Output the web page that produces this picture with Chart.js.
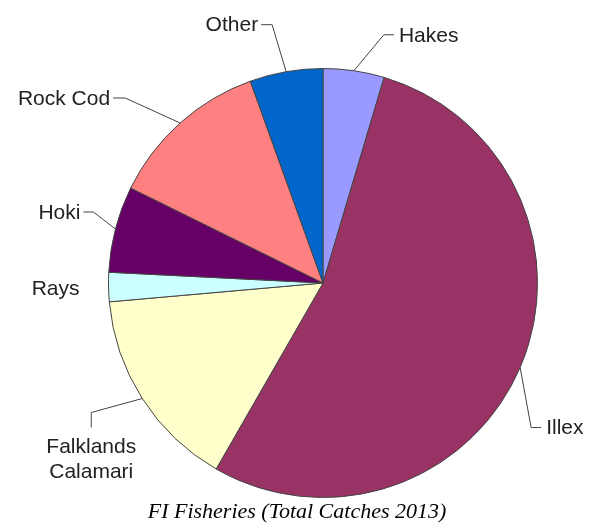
<!DOCTYPE html>
<html>
<head>
<meta charset="utf-8">
<script src="https://cdn.jsdelivr.net/npm/chart.js@4/dist/chart.umd.min.js"></script>
<style>
  body { margin: 0; background: #fff; }
  canvas { display: block; }
</style>
</head>
<body>
<canvas id="pieChart" width="592" height="529"></canvas>
<script>
// catch shares (%)
const categories = ["Hakes", "Illex", "Falklands Calamari", "Rays", "Hoki", "Rock Cod", "Other"];
const catchShare = [4.6, 53.7, 15.3, 2.2, 6.5, 12.2, 5.5];
const sliceColors = ["#9999FF", "#993366", "#FFFFCC", "#CCFFFF", "#660066", "#FF8080", "#0066CC"];
const chartTitle = "FI Fisheries (Total Catches 2013)";

// leader line layout per label: elbow and end offsets from the slice edge, text side
const labelLayout = [
    { elbow: [30, -36], end: [40, -36], align: "left" },
    { elbow: [11, 60], end: [21, 60], align: "left" },
    { elbow: [-51, 14], end: [-51, 29], align: "below" },
    { elbow: null, end: [-26, 1], align: "right" },
    { elbow: [-22, -17], end: [-32, -17], align: "right" },
    { elbow: [-55, -25], end: [-67, -25], align: "right" },
    { elbow: [-14, -47], end: [-25, -47], align: "right" }
];

// draws the labels with leader lines plus the title under the pie
const pieLabels = {
    id: "pieLabels",
    afterDatasetsDraw(chart) {
        const ctx = chart.ctx;
        const arcs = chart.getDatasetMeta(0).data;
        ctx.save();
        ctx.font = "21px 'Liberation Sans', Arial, sans-serif";
        ctx.fillStyle = "#222";
        ctx.strokeStyle = "#444";
        ctx.lineWidth = 1;
        arcs.forEach((arc, i) => {
            const p = arc.getProps(["x", "y", "startAngle", "endAngle", "outerRadius"], true);
            const mid = (p.startAngle + p.endAngle) / 2;
            const ax = p.x + Math.cos(mid) * p.outerRadius;
            const ay = p.y + Math.sin(mid) * p.outerRadius;
            const lay = labelLayout[i];
            const ex = ax + lay.end[0], ey = ay + lay.end[1];
            if (lay.elbow) {
                ctx.beginPath();
                ctx.moveTo(ax, ay);
                ctx.lineTo(ax + lay.elbow[0], ay + lay.elbow[1]);
                ctx.lineTo(ex, ey);
                ctx.stroke();
            }
            ctx.textBaseline = "middle";
            if (lay.align === "left") {
                ctx.textAlign = "left";
                ctx.fillText(categories[i], ex + 5, ey + 1);
            } else if (lay.align === "right") {
                ctx.textAlign = "right";
                ctx.fillText(categories[i], ex - 3, ey + 1);
            } else {
                ctx.textAlign = "center";
                const words = categories[i].split(" ");
                words.forEach((w, k) => ctx.fillText(w, ex, ey + 20 + k * 25));
            }
        });
        ctx.font = "italic 22px 'Liberation Serif', 'Times New Roman', serif";
        ctx.fillStyle = "#000";
        ctx.textAlign = "center";
        ctx.textBaseline = "alphabetic";
        ctx.fillText(chartTitle, 297, 518);
        ctx.restore();
    }
};

new Chart(document.getElementById("pieChart"), {
    type: "pie",
    data: {
        labels: categories,
        datasets: [{
            data: catchShare,
            backgroundColor: sliceColors,
            borderColor: "#444",
            borderWidth: 1
        }]
    },
    options: {
        responsive: false,
        animation: false,
        layout: { padding: { left: 108, right: 54, top: 68, bottom: 31 } },
        plugins: {
            legend: { display: false },
            tooltip: { enabled: false }
        }
    },
    plugins: [pieLabels]
});
</script>
</body>
</html>
